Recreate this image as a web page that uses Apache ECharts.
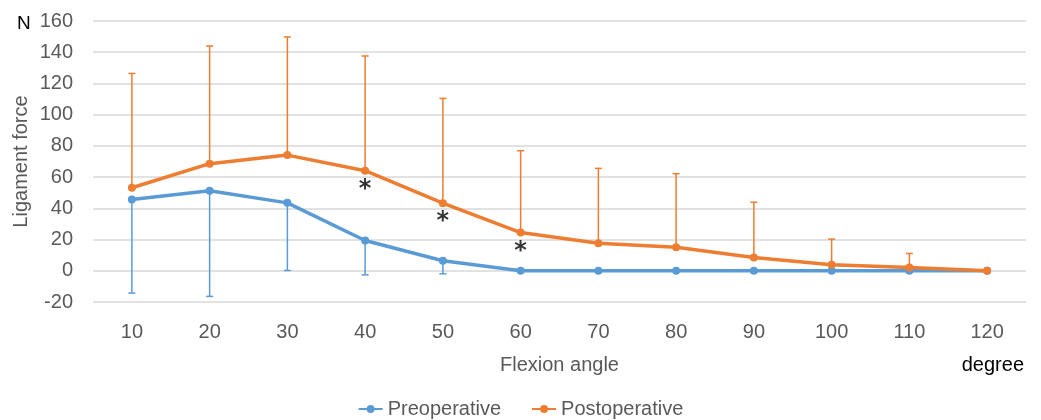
<!DOCTYPE html>
<html>
<head>
<meta charset="utf-8">
<script src="https://cdn.jsdelivr.net/npm/echarts@6/dist/echarts.min.js"></script>
<style>
  html, body { margin: 0; padding: 0; background: #fff; }
  #chart { width: 1041px; height: 420px; }
</style>
</head>
<body>
<div id="chart"></div>
<script>
// flexion angle categories
const angles = ['10', '20', '30', '40', '50', '60', '70', '80', '90', '100', '110', '120']
// mean ligament force (N)
const preMean = [45.6, 51.3, 43.5, 19.4, 6.4, 0, 0, 0, 0, 0, 0, 0]
const postMean = [53.2, 68.6, 74.1, 64.1, 43.3, 24.5, 17.7, 15.1, 8.5, 3.8, 2.1, 0]
// standard deviations (drawn downward for pre, upward for post)
const preSd = [59.9, 67.7, 43.3, 22.0, 8.3, 0, 0, 0, 0, 0, 0, 0]
const postSd = [73.2, 75.4, 75.7, 73.5, 67.1, 52.4, 47.9, 47.1, 35.4, 16.5, 9.0, 0]
// angles with a significant difference
const sigAngles = ['40', '50', '60']

const BLUE = '#5B9BD5'
const ORANGE = '#ED7D31'
const FONT = '"Liberation Sans", sans-serif'

const errorSeries = (name, mean, sd, dir, color) => ({
  name: name,
  type: 'custom',
  silent: true,
  z: 3,
  data: mean.map((m, i) => [i, m, m + dir * sd[i]]),
  renderItem: (params, api) => {
    if (api.value(1) === api.value(2)) return null
    const a = api.coord([api.value(0), api.value(1)])
    const b = api.coord([api.value(0), api.value(2)])
    const style = { stroke: color, lineWidth: 1.5 }
    return {
      type: 'group',
      children: [
        { type: 'line', shape: { x1: a[0], y1: a[1], x2: b[0], y2: b[1] }, style: style },
        { type: 'line', shape: { x1: b[0] - 3.5, y1: b[1], x2: b[0] + 3.5, y2: b[1] }, style: style }
      ]
    }
  }
})

const myChart = echarts.init(document.getElementById('chart'))
myChart.setOption({
  animation: false,
  textStyle: { fontFamily: FONT },
  title: [
    { text: 'N', left: 12, top: 9, textStyle: { fontSize: 19, fontWeight: 'normal', color: '#000', fontFamily: FONT } },
    { text: 'degree', right: 12, top: 350, textStyle: { fontSize: 20, fontWeight: 'normal', color: '#000', fontFamily: FONT } }
  ],
  grid: { left: 93, right: 15, top: 21, bottom: 118, containLabel: false, outerBoundsMode: 'none' },
  legend: {
    bottom: -4,
    left: 'center',
    itemWidth: 24,
    itemHeight: 10,
    itemGap: 30,
    textStyle: { fontSize: 20, color: '#595959', fontFamily: FONT },
    data: ['Preoperative', 'Postoperative']
  },
  xAxis: {
    type: 'category',
    data: angles,
    boundaryGap: true,
    name: 'Flexion angle',
    nameLocation: 'middle',
    nameGap: 53,
    nameTextStyle: { fontSize: 20, color: '#595959' },
    axisLine: { show: false },
    axisTick: { show: false },
    axisLabel: { fontSize: 20, color: '#595959', margin: 20 }
  },
  yAxis: {
    type: 'value',
    min: -20,
    max: 160,
    interval: 20,
    name: 'Ligament force',
    nameLocation: 'middle',
    nameRotate: 90,
    nameGap: 62,
    nameMoveOverlap: false,
    nameTextStyle: { fontSize: 20, color: '#595959' },
    axisLine: { show: false },
    axisTick: { show: false },
    axisLabel: { fontSize: 20, color: '#595959', margin: 20 },
    splitLine: { lineStyle: { color: '#d9d9d9', width: 1.5 } }
  },
  series: [
    {
      name: 'Preoperative',
      type: 'line',
      data: preMean,
      z: 4,
      symbol: 'circle',
      symbolSize: 8,
      lineStyle: { color: BLUE, width: 3.5 },
      itemStyle: { color: BLUE }
    },
    errorSeries('Preoperative', preMean, preSd, -1, BLUE),
    {
      name: 'Postoperative',
      type: 'line',
      data: postMean,
      z: 5,
      symbol: 'circle',
      symbolSize: 8,
      lineStyle: { color: ORANGE, width: 3.5 },
      itemStyle: { color: ORANGE }
    },
    errorSeries('Postoperative', postMean, postSd, 1, ORANGE),
    {
      name: 'sig',
      type: 'scatter',
      silent: true,
      symbolSize: 0,
      data: sigAngles.map(a => [a, postMean[angles.indexOf(a)]]),
      label: {
        show: true,
        position: 'bottom',
        distance: 7,
        formatter: '*',
        fontSize: 24,
        fontWeight: 'bold',
        color: '#000',
        fontFamily: 'DejaVu Sans'
      }
    }
  ]
})
</script>
</body>
</html>
